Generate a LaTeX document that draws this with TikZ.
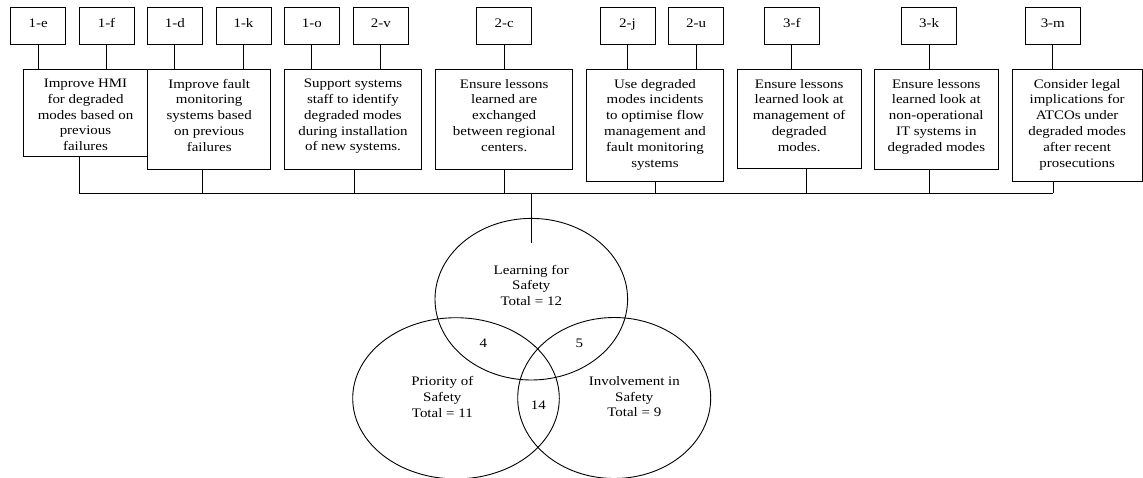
\documentclass[tikz,border=0pt]{standalone}
\usepackage{fontspec}
\setmainfont{Liberation Serif}[FakeStretch=1.15]
\usetikzlibrary{shapes.geometric}
\begin{document}
\begin{tikzpicture}[x=1pt,y=-1pt,
  line width=0.9pt,
  every node/.style={inner sep=0pt,outer sep=0pt},
  txt/.style={font=\fontsize{13}{15.8}\selectfont,align=center},
  tag/.style={draw,txt,minimum width=55,minimum height=36.7,anchor=north west,text height=8.6,text depth=5},
  actbox/.style={draw,minimum width=#1,anchor=north west},
  acttext/.style={txt,anchor=north},
  ring/.style={draw,ellipse}
]
\useasboundingbox (0,0) rectangle (1143,477);

% reference tags along the top
\node[tag] (t1e) at (10.7,7.3) {1-e};
\node[tag] (t1f) at (79,7.3) {1-f};
\node[tag] (t1d) at (147.3,7.3) {1-d};
\node[tag] (t1k) at (216,7.3) {1-k};
\node[tag] (t1o) at (284.3,7.3) {1-o};
\node[tag] (t2v) at (353.3,7.3) {2-v};
\node[tag] (t2c) at (476.7,7.3) {2-c};
\node[tag] (t2j) at (600,7.3) {2-j};
\node[tag] (t2u) at (668.7,7.3) {2-u};
\node[tag] (t3f) at (764.3,7.3) {3-f};
\node[tag] (t3k) at (901.7,7.3) {3-k};
\node[tag] (t3m) at (1025.3,7.3) {3-m};

% action boxes
\node[actbox=124.4,minimum height=87.4] (b1) at (23.3,69.3) {};
\node[actbox=123,minimum height=99.7] (b2) at (147.7,69.3) {};
\node[actbox=137.4,minimum height=99.7] (b3) at (284.3,69.3) {};
\node[actbox=137,minimum height=99.7] (b4) at (435.7,69.3) {};
\node[actbox=136.6,minimum height=112.4] (b5) at (586.7,69.3) {};
\node[actbox=123.7,minimum height=99.2] (b6) at (737.3,69.3) {};
\node[actbox=124,minimum height=99.7] (b7) at (874.3,69.3) {};
\node[actbox=129.7,minimum height=112.4] (b8) at (1012.3,69.3) {};

\node[acttext] (x1) at ([yshift=-9.7pt]b1.north) {Improve HMI\\for degraded\\modes based on\\previous\\failures};
\node[acttext] (x2) at ([yshift=-9.7pt]b2.north) {Improve fault\\monitoring\\systems based\\on previous\\failures};
\node[acttext] (x3) at ([yshift=-9.7pt]b3.north) {Support systems\\staff to identify\\degraded modes\\during installation\\of new systems.};
\node[acttext] (x4) at ([yshift=-9.7pt]b4.north) {Ensure lessons\\learned are\\exchanged\\between regional\\centers.};
\node[acttext] (x5) at ([yshift=-9.7pt]b5.north) {Use degraded\\modes incidents\\to optimise flow\\management and\\fault monitoring\\systems};
\node[acttext] (x6) at ([yshift=-9.7pt]b6.north) {Ensure lessons\\learned look at\\management of\\degraded\\modes.};
\node[acttext] (x7) at ([yshift=-9.7pt]b7.north) {Ensure lessons\\learned look at\\non-operational\\IT systems in\\degraded modes};
\node[acttext] (x8) at ([yshift=-9.7pt]b8.north) {Consider legal\\implications for\\ATCOs under\\degraded modes\\after recent\\prosecutions};

% tags to action boxes
\foreach \t/\b in {t1e/b1,t1f/b1,t1d/b2,t1k/b2,t1o/b3,t2v/b3,t2c/b4,t2j/b5,t2u/b5,t3f/b6,t3k/b7,t3m/b8}
  \draw (\t.south) -- (\t.south |- \b.north);

% collecting bus
\coordinate (j1) at (79,193.3);
\coordinate (j2) at (202.3,193.3);
\coordinate (j3) at (354,193.3);
\coordinate (j4) at (504.3,193.3);
\coordinate (j5) at (655.3,193.3);
\coordinate (j6) at (806.7,193.3);
\coordinate (j7) at (929.3,193.3);
\coordinate (j8) at (1053.3,193.3);
\coordinate (jc) at (531.7,193.3);
\coordinate (drop) at (531.7,243.3);
\foreach \j/\b in {j1/b1,j2/b2,j3/b3,j4/b4,j5/b5,j6/b6,j7/b7,j8/b8}
  \draw (\j |- \b.south) -- (\j);
\draw (j1) -- (j8);
\draw (jc) -- (drop);

% Venn diagram
\node[ring,minimum width=192.6,minimum height=161.6] (learn) at (531.3,299.2) {};
\node[ring,minimum width=206.6,minimum height=161.2] (prio) at (456,398.3) {};
\node[ring,minimum width=193,minimum height=161] (invol) at (614.2,398) {};

\node[txt] (learnt) at (531.3,285.3) {Learning for\\Safety\\Total = 12};
\node[txt] (priot) at (442.3,396.7) {Priority of\\Safety\\Total = 11};
\node[txt] (involt) at (634.3,396.7) {Involvement in\\Safety\\Total = 9};
\node[txt] (n4) at (483.3,343.3) {4};
\node[txt] (n5) at (579.3,343.3) {5};
\node[txt] (n14) at (538.3,405.7) {14};
\end{tikzpicture}
\end{document}
